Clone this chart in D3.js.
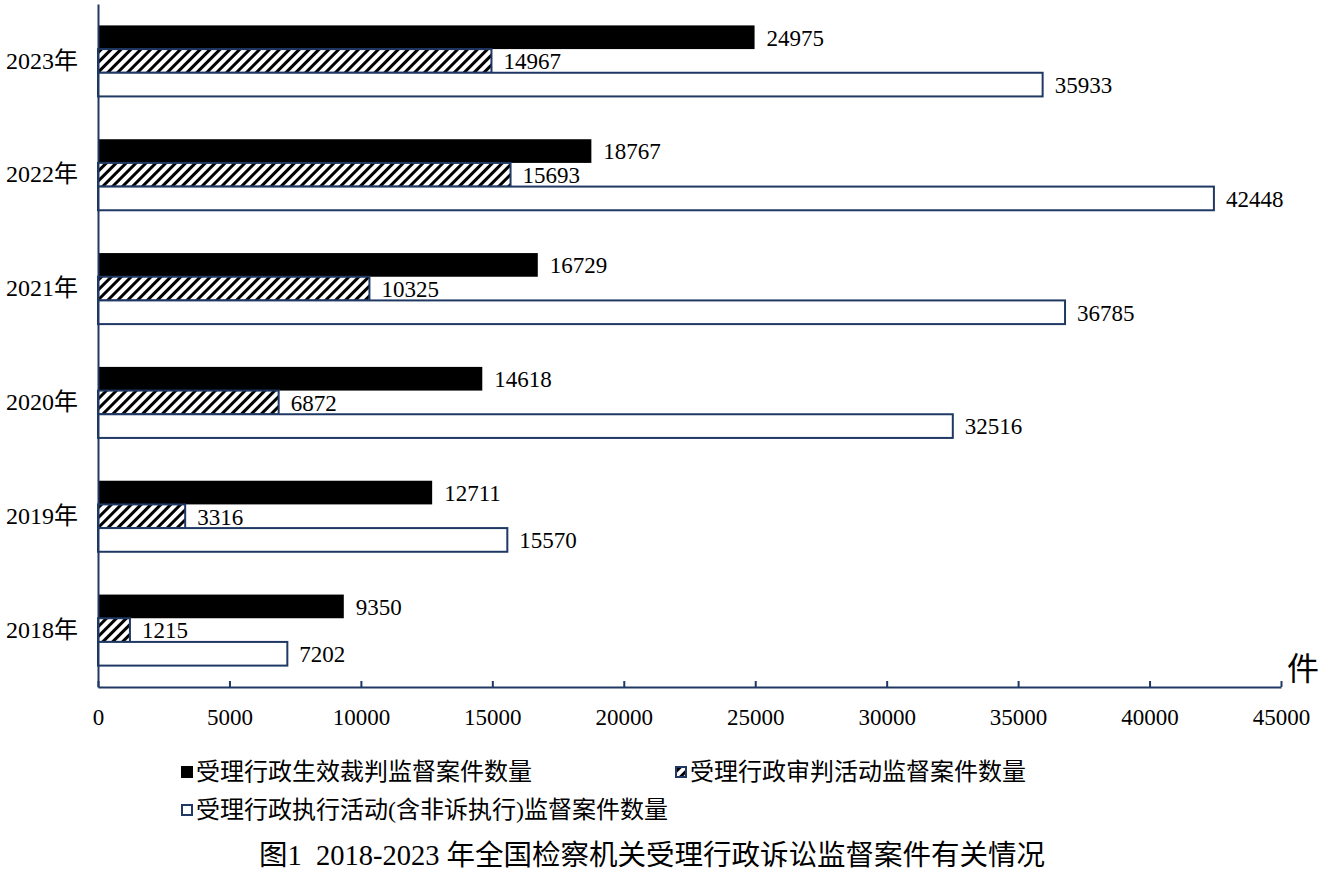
<!DOCTYPE html>
<html>
<head>
<meta charset="utf-8">
<script src="https://cdn.jsdelivr.net/npm/d3@7"></script>
<style>
	body { margin: 0; background: #fff; }
	text { font-family: "Liberation Serif", "Noto Sans CJK SC", serif; fill: #000; }
</style>
</head>
<body>
<div id="contents"></div>
<script>
var years = ['2018年', '2019年', '2020年', '2021年', '2022年', '2023年'];
var seriesNames = [
	'受理行政生效裁判监督案件数量',
	'受理行政审判活动监督案件数量',
	'受理行政执行活动(含非诉执行)监督案件数量'
];
var effective = [9350, 12711, 14618, 16729, 18767, 24975];
var trial = [1215, 3316, 6872, 10325, 15693, 14967];
var execution = [7202, 15570, 32516, 36785, 42448, 35933];
var xTicks = [0, 5000, 10000, 15000, 20000, 25000, 30000, 35000, 40000, 45000];
var unitLabel = '件';
var title = '图1  2018-2023 年全国检察机关受理行政诉讼监督案件有关情况';

var navy = '#1f3864';

var Chart = function() {
	this.svg = d3.select('#contents')
		.append('svg')
		.attr('width', 1327)
		.attr('height', 875);
	this.x = d3.scaleLinear().domain([0, 45000]).range([98, 1281]);
	this.y = d3.scaleBand()
		.domain(years.slice().reverse())
		.range([4, 687])
		.paddingInner(0.376)
		.paddingOuter(0.188);
	this.sub = d3.scaleBand()
		.domain([0, 1, 2])
		.range([0, this.y.bandwidth()]);
};

Chart.prototype.defs = function() {
	var p = this.svg.append('defs')
		.append('pattern')
		.attr('id', 'hatch')
		.attr('patternUnits', 'userSpaceOnUse')
		.attr('width', 7)
		.attr('height', 7)
		.attr('patternTransform', 'rotate(45)');
	p.append('rect').attr('width', 7).attr('height', 7).attr('fill', '#fff');
	p.append('rect').attr('x', 0).attr('width', 3).attr('height', 7).attr('fill', '#000');
};

Chart.prototype.bars = function() {
	var x = this.x, y = this.y, sub = this.sub;
	var values = [effective, trial, execution];
	var fills = ['#000', 'url(#hatch)', '#fff'];
	var strokes = ['#000', navy, navy];

	values.forEach(function(vals, s) {
		var data = years.map(function(yr, i) { return { year: yr, v: vals[i] }; });
		var g = this.svg.append('g');
		g.selectAll('rect')
			.data(data)
			.enter()
			.append('rect')
			.attr('x', x(0))
			.attr('y', function(d) { return y(d.year) + sub(s); })
			.attr('width', function(d) { return x(d.v) - x(0); })
			.attr('height', sub.bandwidth())
			.attr('fill', fills[s])
			.attr('stroke', strokes[s])
			.attr('stroke-width', s == 0 ? 0 : 2);
		g.selectAll('text')
			.data(data)
			.enter()
			.append('text')
			.attr('x', function(d) { return x(d.v) + 12; })
			.attr('y', function(d) { return y(d.year) + sub(s) + sub.bandwidth() / 2; })
			.attr('dy', '0.36em')
			.attr('font-size', 23)
			.text(function(d) { return d.v; });
	}.bind(this));
};

Chart.prototype.axes = function() {
	var x = this.x, y = this.y;
	var xa = this.svg.append('g')
		.attr('transform', 'translate(0,687)')
		.call(d3.axisBottom(x).tickValues(xTicks).tickFormat(d3.format('d'))
			.tickSizeInner(-6).tickSizeOuter(0).tickPadding(17));
	xa.select('.domain').attr('stroke', navy).attr('stroke-width', 2);
	xa.selectAll('.tick line').attr('stroke', navy).attr('stroke-width', 2);
	xa.selectAll('.tick text')
		.attr('font-size', 23)
		.attr('font-family', '"Liberation Serif", serif')
		.attr('dy', '0.9em');

	var ya = this.svg.append('g')
		.attr('transform', 'translate(98,0)')
		.call(d3.axisLeft(y).tickSize(0).tickPadding(20));
	ya.select('.domain').attr('stroke', navy).attr('stroke-width', 2);
	ya.selectAll('.tick text')
		.attr('font-size', 24)
		.attr('font-family', '"Liberation Serif", "Noto Sans CJK SC", serif');

	this.svg.append('text')
		.attr('x', 1287)
		.attr('y', 680)
		.attr('font-size', 32)
		.text(unitLabel);
};

Chart.prototype.legend = function() {
	var items = [
		{ x: 182, y: 772, fill: '#000', stroke: '#000' },
		{ x: 676, y: 772, fill: 'url(#hatch)', stroke: navy },
		{ x: 182, y: 810, fill: '#fff', stroke: navy }
	];
	var g = this.svg.append('g');
	items.forEach(function(it, i) {
		g.append('rect')
			.attr('x', it.x)
			.attr('y', it.y - 5)
			.attr('width', 10)
			.attr('height', 10)
			.attr('fill', it.fill)
			.attr('stroke', it.stroke)
			.attr('stroke-width', 2);
		g.append('text')
			.attr('x', it.x + 14)
			.attr('y', it.y)
			.attr('dy', '0.35em')
			.attr('font-size', 24)
			.text(seriesNames[i]);
	});

	this.svg.append('text')
		.attr('x', 652)
		.attr('y', 855)
		.attr('dy', '0.35em')
		.attr('text-anchor', 'middle')
		.attr('font-size', 28.5)
		.attr('xml:space', 'preserve')
		.style('white-space', 'pre')
		.text(title);
};

var chart = new Chart();
chart.defs();
chart.bars();
chart.axes();
chart.legend();
</script>
</body>
</html>
